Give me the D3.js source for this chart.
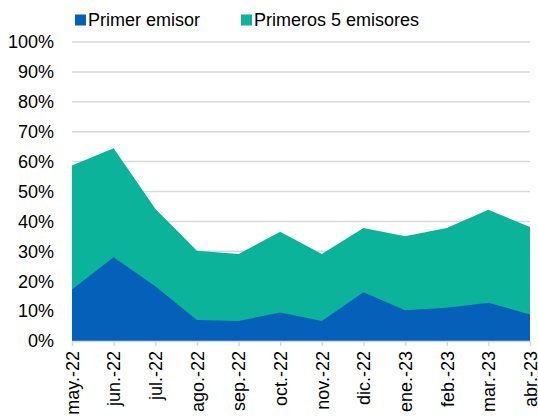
<!DOCTYPE html>
<html>
<head>
<meta charset="utf-8">
<script src="https://cdn.jsdelivr.net/npm/d3@7"></script>
<style>
  body { margin: 0; background: #fff; }
  text { font-family: "Liberation Sans", Arial, sans-serif; fill: #000; }
</style>
</head>
<body>
<svg id="chart" width="538" height="418"></svg>
<script>
// data
var months = ["may.-22", "jun.-22", "jul.-22", "ago.-22", "sep.-22", "oct.-22",
              "nov.-22", "dic.-22", "ene.-23", "feb.-23", "mar.-23", "abr.-23"];
var primerEmisor = [17.2, 28, 18.3, 7, 6.7, 9.5, 6.7, 16.3, 10.3, 11.1, 12.8, 8.9];
var primeros5 = [58.7, 64.5, 44.2, 30.2, 29.1, 36.5, 29.1, 37.8, 35, 37.8, 43.9, 38.1];
var yTicks = [0, 10, 20, 30, 40, 50, 60, 70, 80, 90, 100];
var seriesNames = ["Primer emisor", "Primeros 5 emisores"];
var colors = ["#0560b9", "#0bb39a"];

var margin = {left: 72, right: 8, top: 42, bottom: 77};
var svg = d3.select("#chart");
var w = 538 - margin.left - margin.right,
    h = 418 - margin.top - margin.bottom;
var g = svg.append("g").attr("transform", "translate(" + margin.left + "," + margin.top + ")");

var x = d3.scalePoint().domain(months).range([0, w]);
var y = d3.scaleLinear().domain([0, 100]).range([h, 0]);

// gridlines
g.selectAll(".grid").data(yTicks.filter(function(d) { return d > 0; }))
  .enter().append("line")
  .attr("x1", 0).attr("x2", w)
  .attr("y1", function(d) { return y(d); }).attr("y2", function(d) { return y(d); })
  .attr("stroke", "#d9d9d9").attr("stroke-width", 1.5);

function area(vals) {
  return d3.area()
    .x(function(d, i) { return x(months[i]); })
    .y0(h)
    .y1(function(d) { return y(d); })(vals);
}

g.append("path").attr("d", area(primeros5)).attr("fill", colors[1]);
g.append("path").attr("d", area(primerEmisor)).attr("fill", colors[0]);

// y axis labels
g.selectAll(".ylab").data(yTicks).enter().append("text")
  .attr("x", -18).attr("y", function(d) { return y(d); })
  .attr("dy", "0.35em").attr("text-anchor", "end")
  .style("font-size", "18px")
  .text(function(d) { return d + "%"; });

// x axis
var xAxis = g.append("g").attr("transform", "translate(0," + h + ")")
  .call(d3.axisBottom(x).tickSize(5).tickSizeOuter(0));
xAxis.select(".domain").attr("stroke", "#d9d9d9").attr("stroke-width", 1.5);
xAxis.selectAll(".tick line").attr("stroke", "#d9d9d9").attr("stroke-width", 1.5);
xAxis.selectAll(".tick text")
  .attr("transform", "rotate(-90)")
  .attr("x", -10).attr("y", 0).attr("dy", "0.35em")
  .attr("text-anchor", "end")
  .style("font-size", "18px")
  .style("font-family", "Liberation Sans, Arial, sans-serif")
  .attr("fill", "#000");

// legend
var legX = [75, 241];
var leg = svg.selectAll(".leg").data(seriesNames).enter().append("g")
  .attr("transform", function(d, i) { return "translate(" + legX[i] + ",14.5)"; });
leg.append("rect").attr("width", 11).attr("height", 11).attr("y", 0)
  .attr("fill", function(d, i) { return colors[i]; });
leg.append("text").attr("x", 13).attr("y", 11.5)
  .style("font-size", "18px")
  .text(function(d) { return d; });
</script>
</body>
</html>
